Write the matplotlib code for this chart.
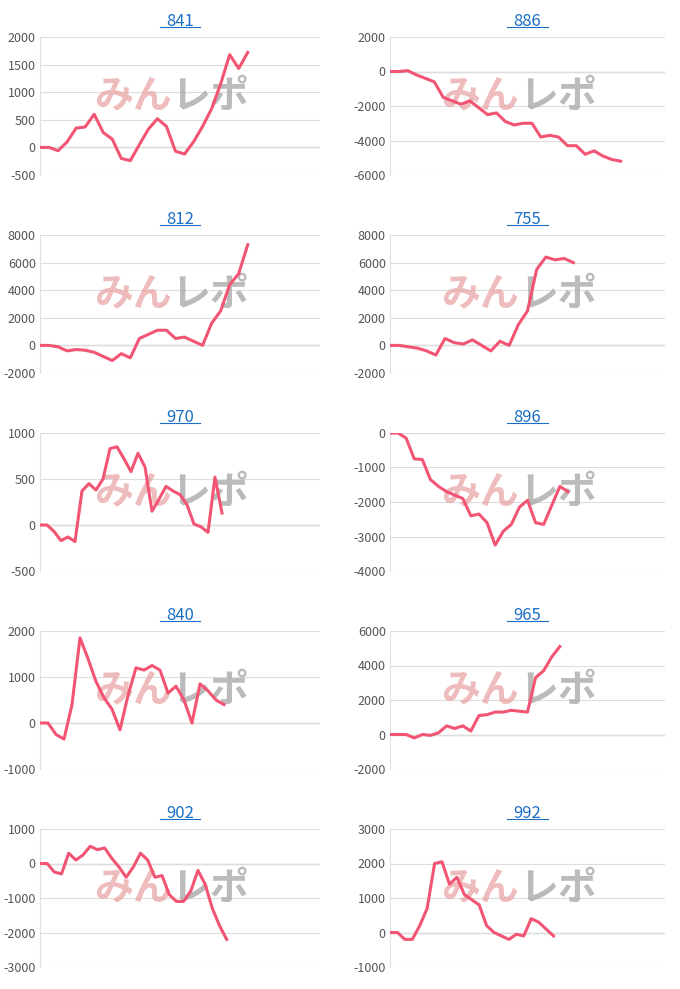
import matplotlib
matplotlib.use("Agg")
import matplotlib.pyplot as plt

titles = ["841","886","812","755","970","896","840","965","902","992"]
s841 = [0,0,-60,100,350,370,600,270,150,-200,-240,50,330,520,380,-70,-120,100,380,700,1150,1680,1430,1720]
s886 = [0,0,50,-200,-400,-600,-1500,-1700,-1900,-1700,-2100,-2500,-2400,-2900,-3100,-3000,-3000,-3800,-3700,-3800,-4300,-4300,-4800,-4600,-4900,-5100,-5200]
s812 = [0,0,-100,-400,-300,-350,-500,-800,-1100,-600,-900,500,800,1100,1100,500,600,300,0,1600,2500,4400,5200,7300]
s755 = [0,0,-100,-200,-400,-700,500,200,100,400,0,-400,300,0,1500,2500,5500,6400,6200,6300,6000]
s970 = [0,0,-70,-170,-130,-180,370,450,380,500,830,850,720,580,780,630,150,280,420,370,330,220,10,-20,-80,520,130]
s896 = [0,0,-150,-750,-770,-1350,-1550,-1700,-1800,-1900,-2400,-2350,-2600,-3250,-2850,-2650,-2150,-1950,-2600,-2650,-2100,-1550,-1700]
s840 = [0,0,-250,-350,400,1850,1400,900,550,300,-150,600,1200,1150,1250,1150,650,800,500,0,850,700,500,400]
s965 = [0,0,0,-200,0,-50,100,500,350,500,200,1100,1150,1300,1300,1400,1350,1300,3300,3700,4500,5100]
s902 = [0,0,-250,-300,300,100,250,500,400,450,150,-100,-400,-100,300,100,-400,-350,-900,-1100,-1100,-800,-200,-600,-1300,-1800,-2200]
s992 = [0,0,-200,-200,200,700,2000,2050,1400,1600,1100,950,800,200,0,-100,-200,-50,-100,400,300,100,-100]
series = [s841,s886,s812,s755,s970,s896,s840,s965,s902,s992]
yticks = [[-500,0,500,1000,1500,2000],[-6000,-4000,-2000,0,2000],[-2000,0,2000,4000,6000,8000],
          [-2000,0,2000,4000,6000,8000],[-500,0,500,1000],[-4000,-3000,-2000,-1000,0],
          [-1000,0,1000,2000],[-2000,0,2000,4000,6000],[-3000,-2000,-1000,0,1000],[-1000,0,1000,2000,3000]]
npts = [31,31,31,30,40,34,35,34,39,37]

plt.rcParams['font.family'] = ['Noto Sans CJK JP', 'DejaVu Sans']
fig = plt.figure(figsize=(6.8, 9.89), dpi=100)
W, H = 680, 989
for i, (t, s, yt, n) in enumerate(zip(titles, series, yticks, npts)):
    r, c = divmod(i, 2)
    x0 = 40 if c == 0 else 390
    x1 = 320 if c == 0 else 665
    top = 37 + r * 198
    bot = top + 138
    ax = fig.add_axes([x0 / W, 1 - bot / H, (x1 - x0) / W, (bot - top) / H])
    ax.plot(range(len(s)), s, color="#f25574", lw=2.2, zorder=3)
    ax.set_xlim(0, n)
    ax.set_ylim(yt[0], yt[-1])
    ax.set_yticks(yt)
    ax.set_yticklabels([str(v) for v in yt])
    ax.set_xticks([])
    ax.grid(axis='y', color="#dddddd", lw=0.8)
    for sp in ['top', 'right', 'bottom']:
        ax.spines[sp].set_visible(False)
    ax.spines['left'].set_color("#e0e0e0")
    ax.axhline(0, color="#bbbbbb", lw=0.9, zorder=1)
    ax.tick_params(axis='y', length=0, labelsize=9, colors="#555555", pad=3)
    ax.set_title(t, color="#1a6fc4", fontsize=12, pad=8)
    ax.text(0.47, 0.57, "みん", transform=ax.transAxes, fontsize=28, color="#e8a0a0",
            alpha=0.7, ha='right', va='center', style='italic', fontweight='bold', zorder=2)
    ax.text(0.47, 0.57, "レポ", transform=ax.transAxes, fontsize=28, color="#aaaaaa",
            alpha=0.8, ha='left', va='center', style='italic', fontweight='bold', zorder=2)
    fig.add_artist(plt.Line2D([(x0 + x1) / 2 / W - 0.03, (x0 + x1) / 2 / W + 0.03],
                              [1 - (top - 10) / H, 1 - (top - 10) / H], color="#1a6fc4", lw=0.8))
fig.savefig("out.png", dpi=100)
